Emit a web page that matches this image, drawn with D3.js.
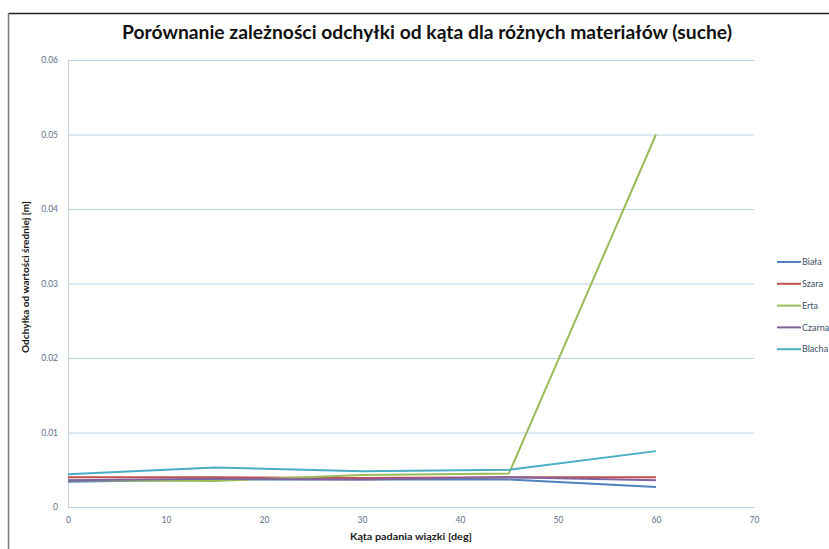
<!DOCTYPE html>
<html>
<head>
<meta charset="utf-8">
<script src="https://cdn.jsdelivr.net/npm/d3@7"></script>
<style>
  html, body { margin: 0; padding: 0; background: #fff; }
  svg { display: block; }
</style>
</head>
<body>
<svg id="chart" width="829" height="549"></svg>
<script>
// Deviation from mean value vs. beam incidence angle, dry samples
const angles = [0, 15, 30, 45, 60];
const seriesNames = ["Biała", "Szara", "Erta", "Czarna", "Blacha"];
const biala  = [0.0034, 0.0037, 0.0037, 0.0037, 0.0027];
const szara  = [0.0040, 0.0040, 0.0039, 0.0040, 0.0040];
const erta   = [0.0036, 0.0035, 0.0043, 0.0045, 0.0500];
const czarna = [0.0036, 0.0038, 0.0037, 0.0040, 0.0036];
const blacha = [0.0044, 0.0053, 0.0048, 0.0050, 0.0075];
const xTicks = [0, 10, 20, 30, 40, 50, 60, 70];
const yTicks = [0, 0.01, 0.02, 0.03, 0.04, 0.05, 0.06];
const colors = ["#4f81bd", "#c0504d", "#9bbb59", "#8064a2", "#4bacc6"];

const series = [biala, szara, erta, czarna, blacha].map((vals, i) => ({
  name: seriesNames[i],
  color: colors[i],
  points: vals.map((v, j) => ({ x: angles[j], y: v }))
}));

const svg = d3.select("#chart");
const W = 829, H = 549;
const plot = { left: 68, right: 754, top: 60, bottom: 507 };

// outer chart frame
svg.append("line").attr("x1", 8.5).attr("x2", W).attr("y1", 13.5).attr("y2", 13.5)
  .attr("stroke", "#222").attr("stroke-width", 1.5);
svg.append("line").attr("x1", 8.5).attr("x2", 8.5).attr("y1", 13.5).attr("y2", H)
  .attr("stroke", "#777").attr("stroke-width", 1.5);

const x = d3.scaleLinear().domain([0, 70]).range([plot.left, plot.right]);
const y = d3.scaleLinear().domain([0, 0.06]).range([plot.bottom, plot.top]);

const labelColor = "#5b6f8a";
const font = "Lato, 'Open Sans', sans-serif";

// horizontal gridlines + y axis labels
const yAxis = d3.axisLeft(y).tickValues(yTicks)
  .tickSize(-(plot.right - plot.left)).tickPadding(10)
  .tickFormat(d => d === 0 ? "0" : d3.format(".2f")(d));
const gy = svg.append("g").attr("transform", `translate(${plot.left},0)`).call(yAxis);
gy.select(".domain").attr("stroke", "#c6d5e6");
gy.selectAll(".tick line").attr("stroke", "#bcd0e4").attr("stroke-width", 1);
gy.selectAll(".tick text").attr("fill", labelColor).attr("font-size", 8.5)
  .attr("font-family", font);

// x axis labels
const xAxis = d3.axisBottom(x).tickValues(xTicks).tickSize(0).tickPadding(10)
  .tickFormat(d3.format("d"));
const gx = svg.append("g").attr("transform", `translate(0,${plot.bottom})`).call(xAxis);
gx.select(".domain").remove();
gx.selectAll(".tick text").attr("fill", labelColor).attr("font-size", 8.5)
  .attr("font-family", font);

// series lines
const line = d3.line().x(d => x(d.x)).y(d => y(d.y));
svg.append("g").selectAll("path").data(series).join("path")
  .attr("d", d => line(d.points))
  .attr("fill", "none")
  .attr("stroke", d => d.color)
  .attr("stroke-width", 2)
  .attr("stroke-linejoin", "round");

// title
svg.append("text").attr("x", 427).attr("y", 39).attr("text-anchor", "middle")
  .attr("font-family", font).attr("font-weight", "bold").attr("font-size", 18)
  .attr("fill", "#111")
  .attr("textLength", 610).attr("lengthAdjust", "spacingAndGlyphs")
  .text("Porównanie zależności odchyłki od kąta dla różnych materiałów (suche)");

// axis titles
svg.append("text").attr("transform", "translate(29,277) rotate(-90)")
  .attr("text-anchor", "middle").attr("font-family", font).attr("font-weight", "bold")
  .attr("font-size", 8.5).attr("fill", "#1a1a1a")
  .attr("textLength", 152).attr("lengthAdjust", "spacingAndGlyphs")
  .text("Odchyłka od wartości średniej [m]");
svg.append("text").attr("x", 411).attr("y", 540)
  .attr("text-anchor", "middle").attr("font-family", font).attr("font-weight", "bold")
  .attr("font-size", 9).attr("fill", "#1a1a1a")
  .attr("textLength", 122).attr("lengthAdjust", "spacingAndGlyphs")
  .text("Kąta padania wiązki [deg]");

// legend
const lg = svg.append("g").attr("transform", "translate(777,262)");
const item = lg.selectAll("g").data(series).join("g")
  .attr("transform", (d, i) => `translate(0,${i * 21.8})`);
item.append("line").attr("x1", 0).attr("x2", 24).attr("y1", 0).attr("y2", 0)
  .attr("stroke", d => d.color).attr("stroke-width", 2);
item.append("text").attr("x", 25).attr("y", 3.2).attr("font-family", font)
  .attr("font-size", 9).attr("fill", "#3d4f66").text(d => d.name);
</script>
</body>
</html>
